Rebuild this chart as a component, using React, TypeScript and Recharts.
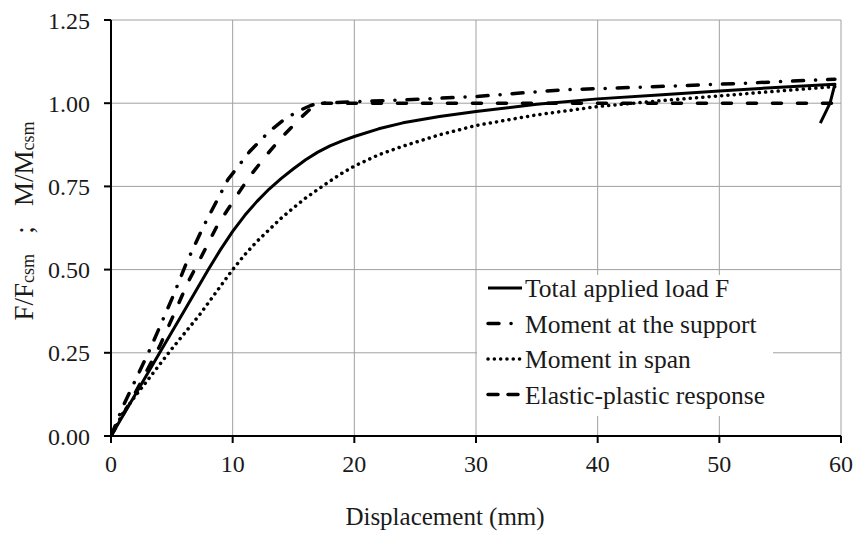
import React from 'react';
import { LineChart, Line, XAxis, YAxis, CartesianGrid, Label } from 'recharts';

const xTicks = [0, 10, 20, 30, 40, 50, 60];
const yTicks = [0, 0.25, 0.5, 0.75, 1.0, 1.25];

// displacement (mm) vs normalised response
const totalLoad = [
  { x: 0, y: 0 }, { x: 2, y: 0.125 }, { x: 4, y: 0.25 }, { x: 6, y: 0.375 },
  { x: 8, y: 0.5 }, { x: 9, y: 0.56 }, { x: 10, y: 0.615 }, { x: 11, y: 0.663 },
  { x: 12, y: 0.705 }, { x: 13, y: 0.742 }, { x: 14, y: 0.774 }, { x: 15, y: 0.803 },
  { x: 16, y: 0.83 }, { x: 17, y: 0.853 }, { x: 18, y: 0.872 }, { x: 19, y: 0.887 },
  { x: 20, y: 0.9 }, { x: 22, y: 0.923 }, { x: 24, y: 0.941 }, { x: 27, y: 0.96 },
  { x: 30, y: 0.975 }, { x: 35, y: 0.997 }, { x: 40, y: 1.013 }, { x: 45, y: 1.025 },
  { x: 50, y: 1.037 }, { x: 55, y: 1.048 }, { x: 59.5, y: 1.057 }, { x: 59.1, y: 1.0 },
  { x: 58.3, y: 0.94 },
];

const supportMoment = [
  { x: 0, y: 0 }, { x: 1, y: 0.09 }, { x: 3.2, y: 0.26 }, { x: 5.1, y: 0.42 },
  { x: 6.2, y: 0.52 }, { x: 7.6, y: 0.63 }, { x: 9.6, y: 0.77 }, { x: 11.4, y: 0.855 },
  { x: 13, y: 0.915 }, { x: 14.3, y: 0.953 }, { x: 15.5, y: 0.978 }, { x: 16.4, y: 0.993 },
  { x: 17, y: 1.0 }, { x: 24, y: 1.01 }, { x: 30, y: 1.02 }, { x: 37, y: 1.04 },
  { x: 45, y: 1.05 }, { x: 52, y: 1.06 }, { x: 59.5, y: 1.072 },
];

const spanMoment = [
  { x: 0, y: 0 }, { x: 1, y: 0.07 }, { x: 2, y: 0.12 }, { x: 4.85, y: 0.255 },
  { x: 7.3, y: 0.365 }, { x: 10, y: 0.5 }, { x: 11, y: 0.545 }, { x: 12, y: 0.585 },
  { x: 13, y: 0.62 }, { x: 14, y: 0.655 }, { x: 15, y: 0.686 }, { x: 16, y: 0.715 },
  { x: 17, y: 0.741 }, { x: 18, y: 0.766 }, { x: 19, y: 0.79 }, { x: 20, y: 0.811 },
  { x: 22, y: 0.845 }, { x: 24, y: 0.871 }, { x: 27, y: 0.905 }, { x: 30, y: 0.933 },
  { x: 35, y: 0.965 }, { x: 40, y: 0.99 }, { x: 45, y: 1.007 }, { x: 50, y: 1.022 },
  { x: 55, y: 1.037 }, { x: 59.5, y: 1.05 },
];

const elasticPlastic = [
  { x: 0, y: 0 }, { x: 2, y: 0.13 }, { x: 4, y: 0.27 }, { x: 5.1, y: 0.36 },
  { x: 6.3, y: 0.46 }, { x: 7.3, y: 0.53 }, { x: 8.7, y: 0.63 }, { x: 10.3, y: 0.72 },
  { x: 11.4, y: 0.78 }, { x: 12.8, y: 0.845 }, { x: 14.1, y: 0.9 }, { x: 15.7, y: 0.96 },
  { x: 16.9, y: 1.0 }, { x: 59.5, y: 1.0 },
];

const FONT = 'Liberation Serif, DejaVu Serif, serif';
const INK = '#1a1a1a';

const styles = {
  solid: { strokeWidth: 3, strokeDasharray: undefined as string | undefined },
  dashDot: { strokeWidth: 3.5, strokeDasharray: '11 12 0.1 12' },
  dotted: { strokeWidth: 3.5, strokeDasharray: '0.1 6.2' },
  dashed: { strokeWidth: 3.5, strokeDasharray: '9 16' },
};

const legendItems = [
  { label: 'Total applied load F', kind: 'solid', dash: undefined as string | undefined },
  { label: 'Moment at the support', kind: 'dashDot', dash: '11 12 0.1 12' },
  { label: 'Moment in span', kind: 'dotted', dash: '0.1 6.2' },
  { label: 'Elastic-plastic response', kind: 'dashed', dash: '10 10' },
];

function ChartLegend() {
  return (
    <svg
      width={296}
      height={141}
      style={{ position: 'absolute', left: 477, top: 275, pointerEvents: 'none', fontFamily: FONT }}
    >
      <rect x={0} y={0} width={296} height={141} fill="#fff" />
      {legendItems.map((it, i) => {
        const base = 22 + i * 35.5;
        const st = styles[it.kind as keyof typeof styles];
        return (
          <g key={it.label}>
            <line
              x1={11}
              x2={it.kind === 'solid' ? 45 : 43}
              y1={base - 9}
              y2={base - 9}
              stroke="#000"
              strokeWidth={st.strokeWidth}
              strokeDasharray={it.dash}
              strokeLinecap={it.kind === 'solid' ? 'butt' : 'round'}
            />
            <text x={48} y={base} style={{ fontFamily: FONT, fontSize: 25.5 }} fill={INK}>
              {it.label}
            </text>
          </g>
        );
      })}
    </svg>
  );
}

function YTitle() {
  return (
    <svg
      width={60}
      height={538}
      style={{ position: 'absolute', left: 0, top: 0, pointerEvents: 'none', fontFamily: FONT }}
    >
      <text
        x={33}
        y={221}
        transform="rotate(-90 33 221)"
        textAnchor="middle"
        fill={INK}
        style={{ whiteSpace: 'pre', fontFamily: FONT, fontSize: 27 }}
      >
        <tspan>F/F</tspan>
        <tspan style={{ fontSize: 18 }} dy={1}>csm</tspan>
        <tspan dy={-1}>{'   ;   M/M'}</tspan>
        <tspan style={{ fontSize: 18 }} dy={1}>csm</tspan>
      </text>
    </svg>
  );
}

export default function App() {
  const tickStyle = { fill: INK, fontSize: 24, style: { fontFamily: FONT } };
  const axisStroke = { stroke: '#000', strokeWidth: 2 };
  return (
    <div
      style={{
        position: 'absolute', left: 0, top: 0, width: 857, height: 538,
        background: '#fff', fontFamily: FONT,
      }}
    >
      <LineChart width={857} height={538} margin={{ top: 20, right: 16, bottom: 0, left: 0 }}>
        <CartesianGrid stroke="#a0a0a0" strokeWidth={1} />
        <XAxis
          type="number"
          dataKey="x"
          domain={[0, 60]}
          ticks={xTicks}
          allowDataOverflow
          height={102}
          tickSize={7}
          tickMargin={12}
          axisLine={axisStroke}
          tickLine={axisStroke}
          tick={tickStyle}
        >
          <Label
            value="Displacement (mm)"
            position="insideBottom"
            offset={13}
            dx={-31}
            style={{ fontFamily: FONT, fontSize: 25, fill: INK }}
          />
        </XAxis>
        <XAxis
          xAxisId="top"
          orientation="top"
          type="number"
          domain={[0, 60]}
          height={0}
          tick={false}
          tickLine={false}
          axisLine={axisStroke}
        />
        <YAxis
          type="number"
          domain={[0, 1.25]}
          ticks={yTicks}
          allowDataOverflow
          width={111}
          tickSize={7}
          tickMargin={14}
          axisLine={axisStroke}
          tickLine={axisStroke}
          tick={tickStyle}
          tickFormatter={(v: number) => v.toFixed(2)}
        />
        <YAxis
          yAxisId="right"
          orientation="right"
          type="number"
          domain={[0, 1.25]}
          width={0}
          tick={false}
          tickLine={false}
          axisLine={axisStroke}
        />
        <Line
          data={elasticPlastic}
          dataKey="y"
          type="linear"
          stroke="#000"
          strokeWidth={styles.dashed.strokeWidth}
          strokeDasharray={styles.dashed.strokeDasharray}
          strokeLinecap="round"
          dot={false}
          isAnimationActive={false}
        />
        <Line
          data={spanMoment}
          dataKey="y"
          type="linear"
          stroke="#000"
          strokeWidth={styles.dotted.strokeWidth}
          strokeDasharray={styles.dotted.strokeDasharray}
          strokeLinecap="round"
          dot={false}
          isAnimationActive={false}
        />
        <Line
          data={supportMoment}
          dataKey="y"
          type="linear"
          stroke="#000"
          strokeWidth={styles.dashDot.strokeWidth}
          strokeDasharray={styles.dashDot.strokeDasharray}
          strokeLinecap="round"
          dot={false}
          isAnimationActive={false}
        />
        <Line
          data={totalLoad}
          dataKey="y"
          type="linear"
          stroke="#000"
          strokeWidth={styles.solid.strokeWidth}
          strokeLinejoin="round"
          dot={false}
          isAnimationActive={false}
        />
      </LineChart>
      <ChartLegend />
      <YTitle />
    </div>
  );
}
